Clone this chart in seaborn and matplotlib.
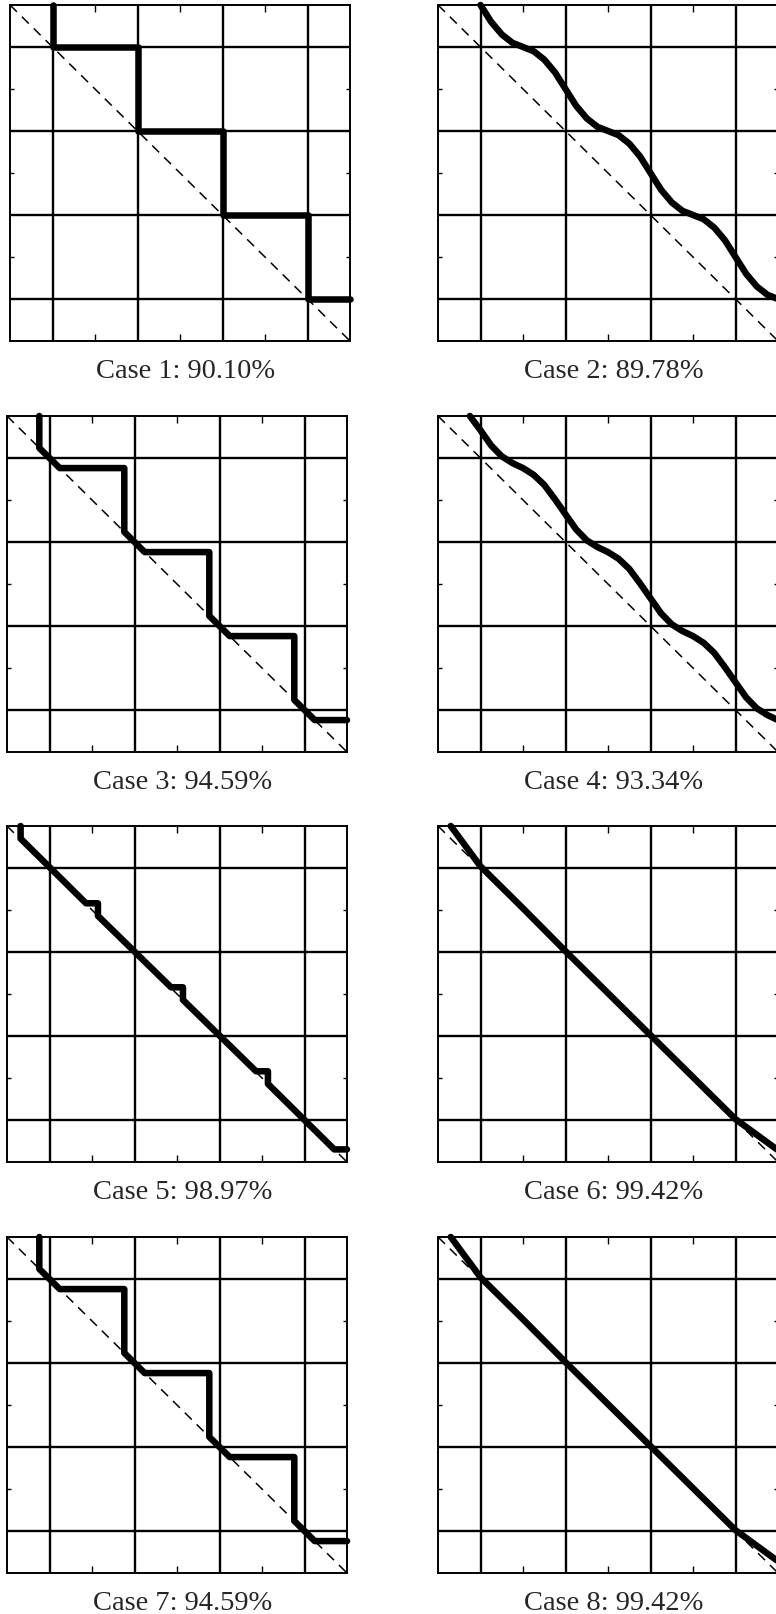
import matplotlib
matplotlib.use("Agg")
import matplotlib.pyplot as plt
import seaborn as sns

sns.set_style("white")
plt.rcParams['font.family'] = ['Liberation Serif', 'DejaVu Serif']
plt.rcParams['lines.scale_dashes'] = False

# Etykiety i wyniki
case_names = ["Case 1", "Case 2", "Case 3", "Case 4", "Case 5", "Case 6", "Case 7", "Case 8"]
case_scores = [90.10, 89.78, 94.59, 93.34, 98.97, 99.42, 94.59, 99.42]

# Krzywe
case1_x = [0.5, 0.5, 1.5, 1.5, 2.5, 2.5, 3.5, 3.5, 4.0]
case1_y = [4.0, 3.5, 3.5, 2.5, 2.5, 1.5, 1.5, 0.5, 0.5]

case2_x = [0.5, 0.625, 0.75, 0.875, 1.0, 1.125, 1.25, 1.375, 1.5, 1.625, 1.75, 1.875,
           2.0, 2.125, 2.25, 2.375, 2.5, 2.625, 2.75, 2.875, 3.0, 3.125, 3.25, 3.375,
           3.5, 3.625, 3.75, 3.875, 4.0]
case2_y = [4.0, 3.80, 3.65, 3.55, 3.5, 3.45, 3.35, 3.20, 3.0, 2.80, 2.65, 2.55,
           2.5, 2.45, 2.35, 2.20, 2.0, 1.80, 1.65, 1.55, 1.5, 1.45, 1.35, 1.20,
           1.0, 0.80, 0.65, 0.55, 0.5]

case3_x = [0.38, 0.38, 0.62, 1.38, 1.38, 1.62, 2.38, 2.38, 2.62, 3.38, 3.38, 3.62, 4.0]
case3_y = [4.0, 3.62, 3.38, 3.38, 2.62, 2.38, 2.38, 1.62, 1.38, 1.38, 0.62, 0.38, 0.38]

case4_x = [0.375, 0.5, 0.625, 0.75, 0.875, 1.0, 1.125, 1.25, 1.375, 1.5, 1.625, 1.75,
           1.875, 2.0, 2.125, 2.25, 2.375, 2.5, 2.625, 2.75, 2.875, 3.0, 3.125, 3.25,
           3.375, 3.5, 3.625, 3.75, 3.875, 4.0]
case4_y = [4.0, 3.83, 3.65, 3.52, 3.44, 3.38, 3.30, 3.18, 3.01, 2.83, 2.65, 2.52,
           2.44, 2.38, 2.30, 2.18, 2.01, 1.83, 1.65, 1.52, 1.44, 1.38, 1.30, 1.18,
           1.01, 0.83, 0.65, 0.52, 0.44, 0.38]

case5_x = [0.16, 0.16, 0.93, 1.07, 1.07, 1.93, 2.07, 2.07, 2.93, 3.07, 3.07, 3.85, 4.0]
case5_y = [4.0, 3.85, 3.08, 3.08, 2.93, 2.08, 2.08, 1.93, 1.08, 1.08, 0.93, 0.15, 0.15]

case6_x = [0.15, 0.5, 1.0, 1.5, 2.0, 2.5, 3.0, 3.5, 4.0]
case6_y = [4.0, 3.52, 3.02, 2.51, 2.01, 1.51, 1.01, 0.51, 0.14]

curves = [(case1_x, case1_y), (case2_x, case2_y), (case3_x, case3_y), (case4_x, case4_y),
          (case5_x, case5_y), (case6_x, case6_y), (case3_x, case3_y), (case6_x, case6_y)]

diag_x = [0.0, 4.0]
diag_y = [4.0, 0.0]
grid_pos = [0.5, 1.5, 2.5, 3.5]
tick_pos = [1, 2, 3]

# Uklad w pikselach
W, H = 776, 1615
row_tops = [6, 417, 827, 1238]
left_cols = [10, 7, 7, 7]
right_col = 438
aw, ah = 340, 336

fig = plt.figure(figsize=(W / 100, H / 100), dpi=100)

for i, (name, score) in enumerate(zip(case_names, case_scores)):
    row, col = i // 2, i % 2
    l = left_cols[row] if col == 0 else right_col
    t = row_tops[row]
    ax = fig.add_axes([l / W, 1 - (t + ah) / H, aw / W, ah / H])

    ax.plot(diag_x, diag_y, color='black', lw=1.1, linestyle=(0, (7, 5)), zorder=2)
    cx, cy = curves[i]
    sns.lineplot(x=cx, y=cy, sort=False, estimator=None, color='black', lw=4.7,
                 solid_capstyle='round', solid_joinstyle='round', clip_on=False,
                 zorder=3, ax=ax)

    ax.set_xlim(0, 4)
    ax.set_ylim(0, 4)
    ax.set_xticks(tick_pos)
    ax.set_yticks(tick_pos)
    ax.set_xticks(grid_pos, minor=True)
    ax.set_yticks(grid_pos, minor=True)
    ax.tick_params(which='major', direction='in', color='black', width=1.0,
                   top=True, right=True, bottom=True, left=True,
                   labelbottom=False, labelleft=False)
    ax.tick_params(axis='x', which='major', length=5)
    ax.tick_params(axis='y', which='major', length=3)
    ax.tick_params(which='minor', length=0)
    ax.grid(False, which='major')
    ax.grid(True, which='minor', color='black', lw=1.7)
    ax.set_axisbelow(True)
    for s in ax.spines.values():
        s.set_color('black')
        s.set_linewidth(1.4)

    fig.text((l + aw / 2 + 6) / W, 1 - (t + ah + 36) / H, f"{name}: {score:.2f}%",
             ha='center', va='baseline', fontsize=20.5)

fig.savefig("out.png", dpi=100)
